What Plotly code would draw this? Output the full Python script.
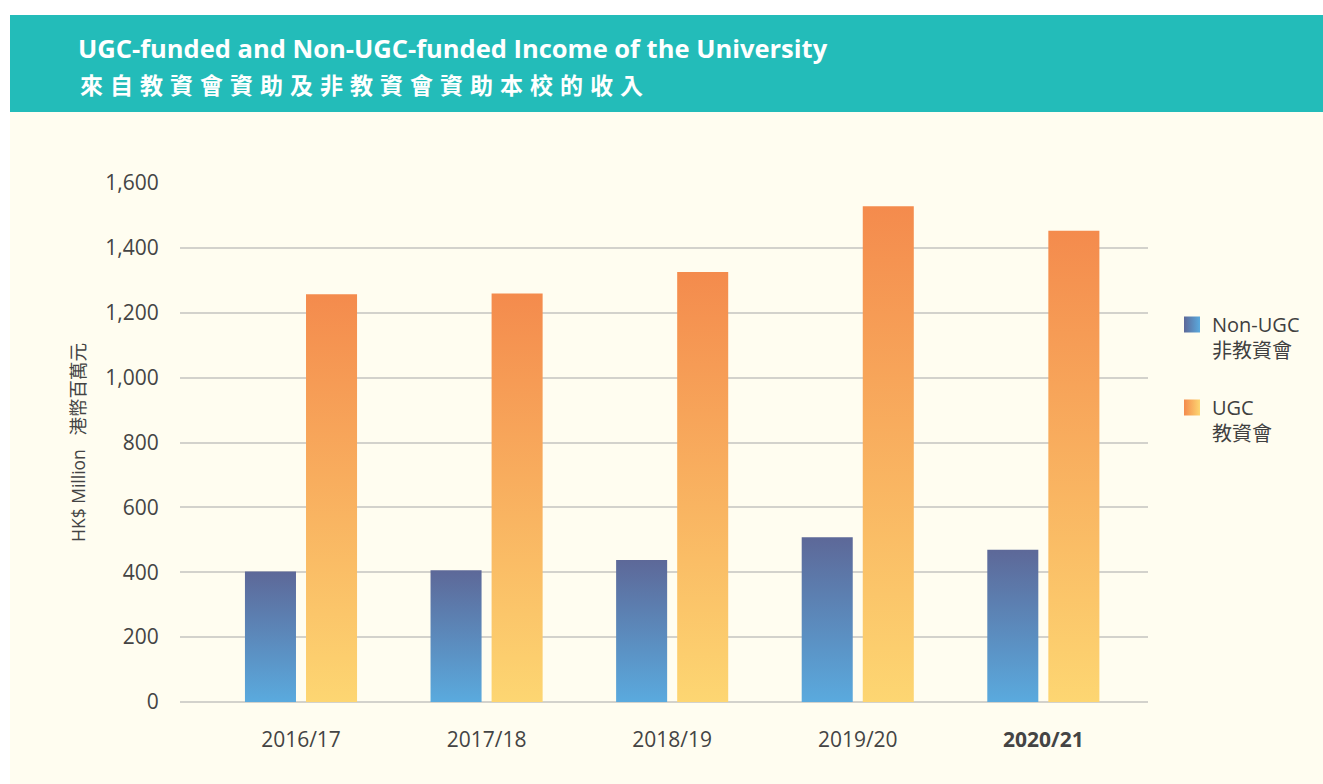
import plotly.graph_objects as go

# ---- data ----
years = ["2016/17", "2017/18", "2018/19", "2019/20", "2020/21"]
tick_labels = ["2016/17", "2017/18", "2018/19", "2019/20", "<b>2020/21</b>"]
non_ugc = [402, 406, 438, 508, 469]
ugc = [1257, 1259, 1326, 1528, 1453]
y_ticks = [0, 200, 400, 600, 800, 1000, 1200, 1400, 1600]

series_names = ["Non-UGC<br>非教資會", "UGC<br>教資會"]

# ---- style ----
FONT = "Open Sans, Noto Sans CJK TC, sans-serif"
BLUE_TOP, BLUE_BOT = "#5d6898", "#5aaade"
ORANGE_TOP, ORANGE_BOT = "#f48b4d", "#fdd672"
BAR_W = 0.275
HALF_GAP = 0.027

fig = go.Figure()

def add_bars(values, side, top, bot, group):
    for i, v in enumerate(values):
        if side < 0:
            x0, x1 = i - HALF_GAP - BAR_W, i - HALF_GAP
        else:
            x0, x1 = i + HALF_GAP, i + HALF_GAP + BAR_W
        fig.add_trace(go.Scatter(
            x=[x0, x1, x1, x0, x0], y=[0, 0, v, v, 0],
            mode="lines", line=dict(width=0), fill="toself",
            fillgradient=dict(type="vertical", start=0, stop=v,
                              colorscale=[[0, bot], [1, top]]),
            hoverinfo="text", text=f"{years[i]}: {v}",
            showlegend=False, legendgroup=group,
        ))

add_bars(non_ugc, -1, BLUE_TOP, BLUE_BOT, "non")
add_bars(ugc, 1, ORANGE_TOP, ORANGE_BOT, "ugc")

# legend entries
for name, c1, c2, g in [(series_names[0], BLUE_TOP, BLUE_BOT, "non"),
                        (series_names[1], ORANGE_TOP, ORANGE_BOT, "ugc")]:
    fig.add_trace(go.Scatter(
        x=[None], y=[None], mode="markers", name=name, legendgroup=g,
        marker=dict(symbol="square", size=20, color=c1,
                    gradient=dict(type="horizontal", color=c2), line=dict(width=0)),
    ))

W, H = 1323, 784
L, R, T, B = 180, 175, 183, 82
pw, ph = W - L - R, H - T - B

def px(xp):
    return (xp - L) / pw

def py(yp):
    return (H - B - yp) / ph

fig.update_layout(
    width=W, height=H,
    margin=dict(l=L, r=R, t=T, b=B),
    paper_bgcolor="white",
    plot_bgcolor="rgba(0,0,0,0)",
    font=dict(family=FONT, color="#404040"),
    title=dict(text="UGC-funded and Non-UGC-funded Income of the University",
               font=dict(family=FONT, size=25.5, color="white", weight="bold"),
               x=78 / W, xref="container", xanchor="left",
               y=1 - 49 / H, yref="container", yanchor="middle"),
    xaxis=dict(range=[-0.652, 4.564], tickvals=list(range(len(years))), ticktext=tick_labels,
               showgrid=False, zeroline=False, showline=False,
               ticks="outside", ticklen=19, tickcolor="rgba(0,0,0,0)",
               tickfont=dict(size=21, color="#444444"), fixedrange=True),
    yaxis=dict(range=[0, 1600], tickvals=y_ticks, tickformat=",d",
               showgrid=True, gridcolor="#d3d2cc", gridwidth=2,
               zeroline=True, zerolinecolor="#d3d2cc", zerolinewidth=2,
               showline=False, ticks="outside", ticklen=16, tickcolor="rgba(0,0,0,0)",
               tickfont=dict(size=21, color="#444444"),
               title=dict(text="HK$ Million\u00a0\u00a0 <span style=\"font-size:18.5px\">港幣百萬元</span>",
                          font=dict(size=17.5, color="#444444"), standoff=15),
               fixedrange=True),
    legend=dict(x=px(1172), y=py(305), xanchor="left", yanchor="top",
                font=dict(size=20, color="#404040"), valign="top",
                tracegroupgap=28, bgcolor="rgba(0,0,0,0)", itemclick=False),
    shapes=[
        dict(type="rect", xref="paper", yref="paper", layer="below",
             x0=px(10), x1=px(W), y0=py(H), y1=py(112),
             fillcolor="#fffdf0", line=dict(width=0)),
        dict(type="rect", xref="paper", yref="paper", layer="below",
             x0=px(10), x1=px(W), y0=py(112), y1=py(15),
             fillcolor="#23bcb9", line=dict(width=0)),
    ],
    annotations=[
        dict(text='<span style="letter-spacing:7px">來自教資會資助及非教資會資助本校的收入</span>',
             xref="paper", yref="paper", x=px(78), y=py(85),
             xanchor="left", yanchor="middle", showarrow=False,
             font=dict(family=FONT, size=23, color="white", weight="bold")),
    ],
)

fig.write_html("out.html", config={"displayModeBar": False},
               post_script="document.body.style.margin='0';")
